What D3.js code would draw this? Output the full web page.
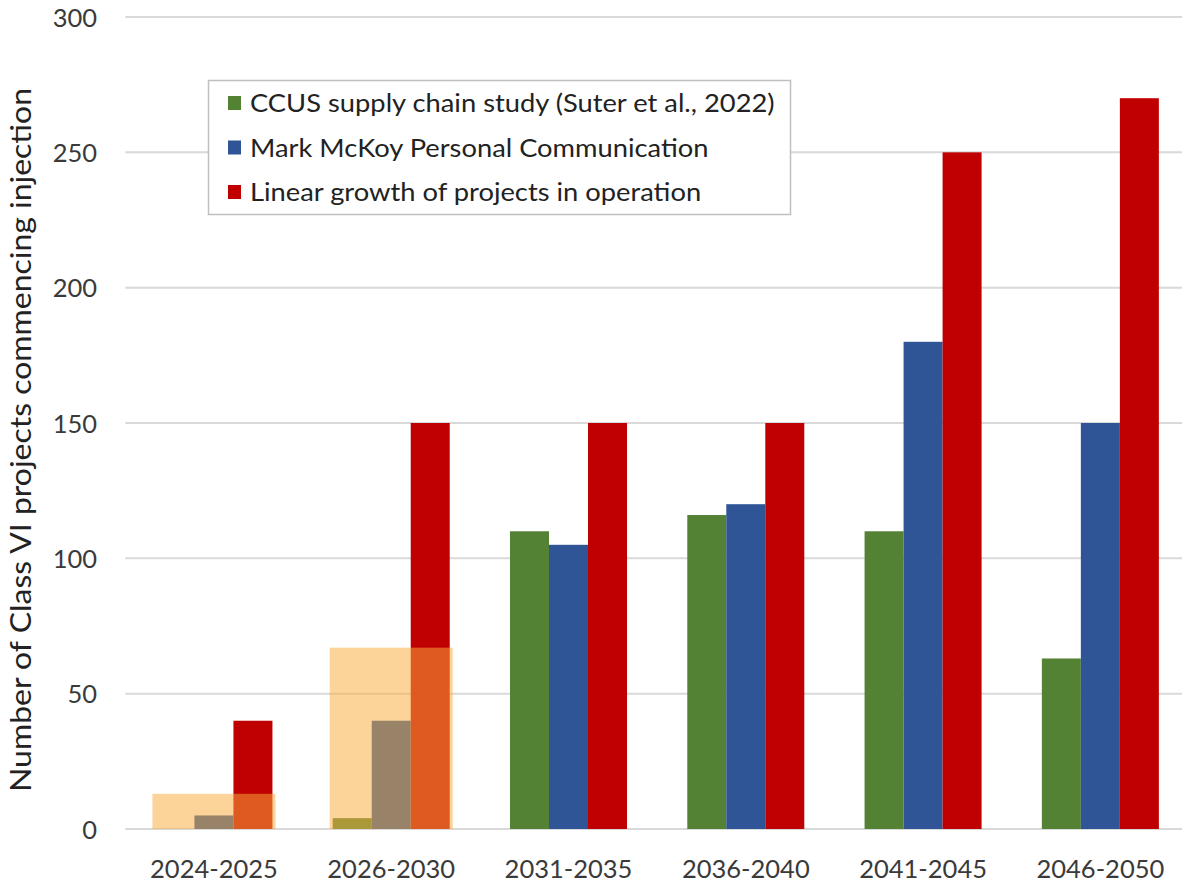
<!DOCTYPE html>
<html>
<head>
<meta charset="utf-8">
<script src="https://cdn.jsdelivr.net/npm/d3@7"></script>
<style>
  html, body { margin: 0; padding: 0; background: #fff; }
  svg { display: block; }
  text { font-family: Lato, "Open Sans", sans-serif; }
</style>
</head>
<body>
<svg id="chart" width="1182" height="886"></svg>
<script>
// Class VI well projects commencing injection, by period
const categories = ["2024-2025", "2026-2030", "2031-2035", "2036-2040", "2041-2045", "2046-2050"];
const seriesNames = [
  "CCUS supply chain study (Suter et al., 2022)",
  "Mark McKoy Personal Communication",
  "Linear growth of projects in operation"
];
const supplyChainStudy = [0, 4, 110, 116, 110, 63];
const mcKoyEstimate    = [5, 40, 105, 120, 180, 150];
const linearGrowth     = [40, 150, 150, 150, 250, 270];
const seriesColors = ["#548235", "#2F5597", "#C00000"];
const yTicks = [0, 50, 100, 150, 200, 250, 300];

// Shaded near-term periods and the level each shading reaches
const highlightCats = ["2024-2025", "2026-2030"];
const highlightTops = [13, 67];

const seriesValues = [supplyChainStudy, mcKoyEstimate, linearGrowth];

const svg = d3.select("#chart");
const plotLeft = 125.3, plotRight = 1189, plotTop = 17, plotBottom = 829;

const y = d3.scaleLinear().domain([0, 300]).range([plotBottom, plotTop]);
const x0 = d3.scaleBand().domain(categories).range([plotLeft, plotRight]).padding(0);
const groupW = x0.bandwidth() * 0.66;
const x1 = d3.scaleBand().domain(d3.range(seriesNames.length)).range([0, groupW]).padding(0);
const groupStart = c => x0(c) + (x0.bandwidth() - groupW) / 2;

// Gridlines
svg.append("g")
  .selectAll("line")
  .data(yTicks)
  .join("line")
  .attr("x1", plotLeft).attr("x2", plotRight)
  .attr("y1", d => y(d)).attr("y2", d => y(d))
  .attr("stroke", "#d9d9d9")
  .attr("stroke-width", 2);

// Y axis labels
const yAxis = d3.axisLeft(y).tickValues(yTicks).tickSize(0).tickPadding(0);
const gy = svg.append("g").attr("transform", "translate(97,0)").call(yAxis);
gy.select(".domain").remove();
gy.selectAll("text")
  .attr("font-size", 25.5)
  .attr("fill", "#3a3a3a")
  .attr("font-family", "Lato, sans-serif")
  .attr("dy", "0.36em");

// X axis labels
const xAxis = d3.axisBottom(x0).tickSize(0).tickPadding(0);
const gx = svg.append("g").attr("transform", `translate(0,${plotBottom})`).call(xAxis);
gx.select(".domain").remove();
gx.selectAll("text")
  .attr("font-size", 25.5)
  .attr("fill", "#3a3a3a")
  .attr("font-family", "Lato, sans-serif")
  .attr("dy", 0)
  .attr("y", 49);

// Bars
const rows = [];
categories.forEach((c, i) => {
  seriesValues.forEach((vals, s) => rows.push({ cat: c, s, v: vals[i] }));
});
svg.append("g")
  .selectAll("rect")
  .data(rows.filter(d => d.v > 0))
  .join("rect")
  .attr("x", d => groupStart(d.cat) + x1(d.s))
  .attr("width", x1.bandwidth())
  .attr("y", d => y(d.v))
  .attr("height", d => y(0) - y(d.v))
  .attr("fill", d => seriesColors[d.s]);

// Translucent orange shading over the near-term periods
svg.append("g")
  .selectAll("rect")
  .data(highlightCats.map((c, i) => ({ cat: c, top: highlightTops[i] })))
  .join("rect")
  .attr("x", d => groupStart(d.cat) - 3)
  .attr("width", groupW + 6)
  .attr("y", d => y(d.top))
  .attr("height", d => y(0) - y(d.top))
  .attr("fill", "rgb(249,172,61)")
  .attr("fill-opacity", 0.52);

// Y axis title
svg.append("text")
  .attr("transform", "translate(31,440) rotate(-90)")
  .attr("text-anchor", "middle")
  .attr("font-size", 28)
  .attr("fill", "#222")
  .attr("textLength", 704)
  .attr("lengthAdjust", "spacingAndGlyphs")
  .text("Number of Class VI projects commencing injection");

// Legend
const legend = svg.append("g");
legend.append("rect")
  .attr("x", 208.5).attr("y", 80.5)
  .attr("width", 582).attr("height", 134)
  .attr("fill", "#fff")
  .attr("stroke", "#bfbfbf")
  .attr("stroke-width", 1.5);
const rowsG = legend.selectAll("g.item")
  .data(seriesNames)
  .join("g")
  .attr("class", "item")
  .attr("transform", (d, i) => `translate(228,${103 + i * 44.5})`);
rowsG.append("rect")
  .attr("x", 0).attr("y", -7)
  .attr("width", 13).attr("height", 14)
  .attr("fill", (d, i) => seriesColors[i]);
rowsG.append("text")
  .attr("transform", "translate(22,0) scale(1.093,1)")
  .attr("dy", "0.36em")
  .attr("font-size", 25)
  .attr("fill", "#222")
  .text(d => d);
</script>
</body>
</html>
